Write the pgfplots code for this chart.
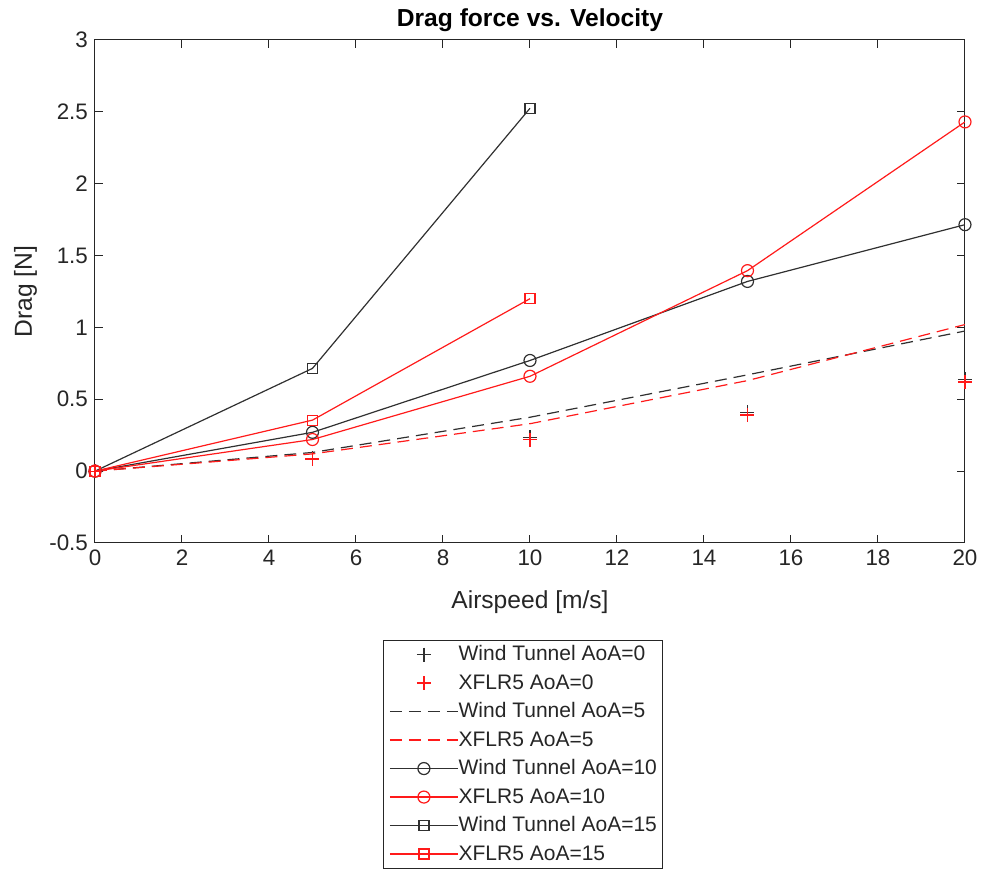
\documentclass[border=0pt]{standalone}
\usepackage{pgfplots}
\pgfplotsset{compat=1.18}
\usepackage{fontspec}
\setmainfont{Liberation Sans}
\definecolor{axgray}{HTML}{262626}
\definecolor{lblack}{HTML}{303030}
\definecolor{lred}{HTML}{FF1A1A}
\pgfplotsset{
 lineleg/.style={legend image code/.code={\draw[mark repeat=2,mark phase=2] plot coordinates {(0cm,0cm)(0.6cm,0cm)(1.2cm,0cm)};}},
 markleg/.style={legend image code/.code={\draw[only marks] plot coordinates {(0.6cm,0cm)};}},
}
\begin{document}
\begin{tikzpicture}
\begin{axis}[
 at={(47.5pt,164.5pt)}, anchor=south west, scale only axis,
 width=435pt, height=251.5pt,
 xmin=0, xmax=20, ymin=-0.5, ymax=3,
 xtick={0,2,...,20}, ytick={-0.5,0,0.5,1,1.5,2,2.5,3},
 /pgf/number format/assume math mode=true,
 tick label style={font=\fontsize{11.2}{13}\selectfont, text=axgray},
 axis line style={axgray, line width=0.5pt},
 major tick style={axgray, line width=0.5pt},
 major tick length=4pt,
 tick align=inside,
 title={\bfseries Drag force vs. Velocity},
 every axis title/.style={font=\fontsize{12.3}{14}\selectfont, text=black, at={(axis description cs:0.5,1.04)}, anchor=center},
 xlabel={Airspeed [m/s]},
 ylabel={Drag [N]},
 label style={font=\fontsize{12.3}{14}\selectfont, text=axgray},
 xlabel style={at={(axis description cs:0.5,-0.117)}, anchor=center},
 ylabel style={at={(axis description cs:-0.08,0.5)}, anchor=center, rotate=0},
 legend style={at={(0.492,-0.193)}, anchor=north, draw=axgray, line width=0.5pt, fill=white,
   font=\fontsize{10.5}{12}\selectfont, text=axgray,
   nodes={inner sep=0pt, text height=8pt, text depth=2pt, line width=0.6pt},
   row sep=4.25pt, inner xsep=3pt, inner ysep=2pt,
   /tikz/every even column/.append style={column sep=3pt}},
 legend cell align=left,
]
\addplot[lblack, only marks, mark=+, mark size=3.5pt, line width=0.6pt, markleg] coordinates {(0,0) (5,0.09) (10,0.235) (15,0.41) (20,0.64)};
\addlegendentry{Wind Tunnel AoA=0}
\addplot[lred, only marks, mark=+, mark size=3.5pt, line width=0.6pt, markleg] coordinates {(0,0) (5,0.085) (10,0.22) (15,0.39) (20,0.62)};
\addlegendentry{XFLR5 AoA=0}
\addplot[lblack, dash pattern=on 6pt off 3.5pt, line width=0.6pt, lineleg] coordinates {(0,0) (5,0.13) (10,0.375) (15,0.67) (20,0.975)};
\addlegendentry{Wind Tunnel AoA=5}
\addplot[lred, dash pattern=on 6pt off 3.5pt, line width=0.6pt, lineleg] coordinates {(0,0) (5,0.12) (10,0.33) (15,0.63) (20,1.02)};
\addlegendentry{XFLR5 AoA=5}
\addplot[lblack, line width=0.6pt, mark=o, mark size=3pt, lineleg] coordinates {(0,0) (5,0.27) (10,0.77) (15,1.32) (20,1.715)};
\addlegendentry{Wind Tunnel AoA=10}
\addplot[lred, line width=0.6pt, mark=o, mark size=3pt, lineleg] coordinates {(0,0) (5,0.22) (10,0.66) (15,1.395) (20,2.43)};
\addlegendentry{XFLR5 AoA=10}
\addplot[lblack, line width=0.6pt, mark=square, mark size=2.5pt, lineleg] coordinates {(0,0) (5,0.715) (10,2.525)};
\addlegendentry{Wind Tunnel AoA=15}
\addplot[lred, line width=0.6pt, mark=square, mark size=2.5pt, lineleg] coordinates {(0,0) (5,0.355) (10,1.2)};
\addlegendentry{XFLR5 AoA=15}
\end{axis}
\pgfresetboundingbox
\path (0,0) rectangle (491pt,436pt);
\end{tikzpicture}
\end{document}
